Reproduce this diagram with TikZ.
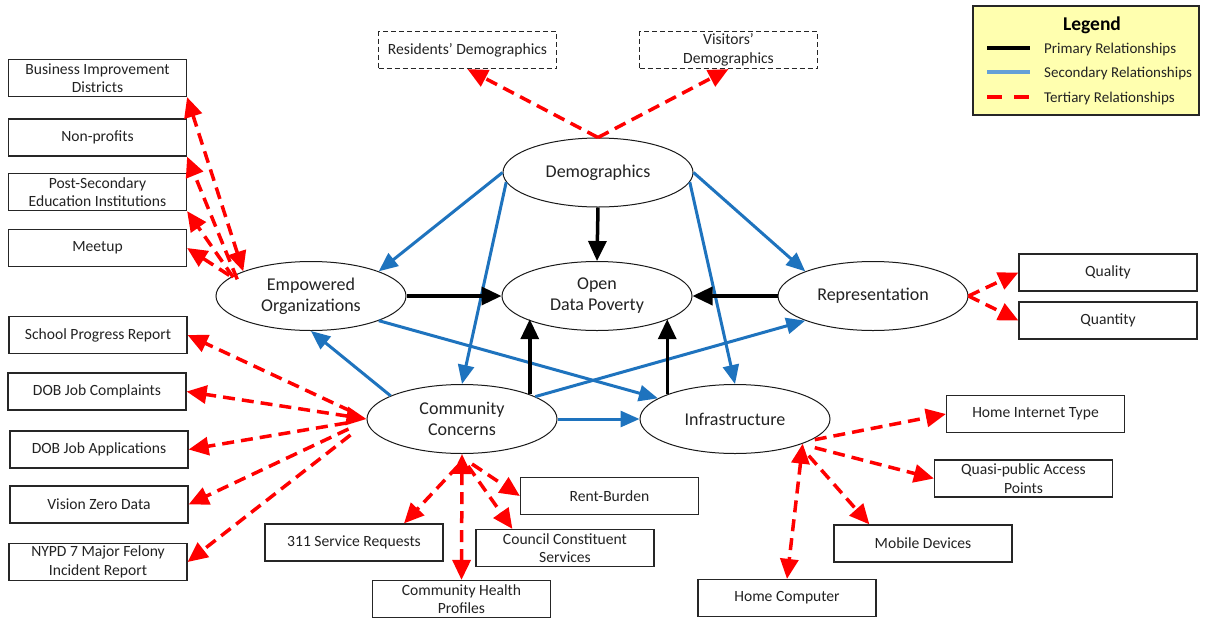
\documentclass[tikz,border=0pt]{standalone}
\usepackage{fontspec}
\setmainfont{Carlito}
\usetikzlibrary{shapes.geometric,arrows.meta,calc}
\definecolor{secblue}{RGB}{30,115,190}
\definecolor{legblue}{RGB}{100,160,215}
\definecolor{terred}{RGB}{255,0,0}
\definecolor{legyellow}{RGB}{255,255,175}
\definecolor{txt}{RGB}{35,35,35}
\begin{document}
\begin{tikzpicture}[x=1pt,y=-1pt,
  ell/.style={ellipse, draw=black!90, line width=1pt, minimum width=190pt, minimum height=69pt,
    inner sep=0pt, align=center, text=txt, font=\fontsize{18}{21}\selectfont},
  box/.style={rectangle, draw=black!85, line width=1.2pt, minimum width=178pt, minimum height=37pt,
    inner sep=0pt, align=center, text=txt, font=\fontsize{15.6}{18.5}\selectfont},
  dbox/.style={box, dash pattern=on 5pt off 3pt},
  prim/.style={black, line width=3.5pt, -{Triangle[length=20pt,width=18pt]}},
  sec/.style={secblue, line width=3pt, -{Triangle[length=19pt,width=16pt]}},
  ter/.style={terred, line width=3.5pt, dash pattern=on 12pt off 7pt, -{Triangle[length=20pt,width=18pt]}},
  terb/.style={ter, {Triangle[length=20pt,width=18pt]}-{Triangle[length=20pt,width=18pt]}},
  legtext/.style={anchor=west, text=txt, inner sep=0pt, font=\fontsize{15}{18}\selectfont}
]
\fill[white] (0,0) rectangle (1210,619);
\useasboundingbox (0,0) rectangle (1210,619);

% Legend
\node (legbox) [rectangle, draw=black!85, line width=1.2pt, fill=legyellow, minimum width=226pt, minimum height=109pt, inner sep=0pt] at (1086,60.5) {};
\node (legtitle) [text=black, font=\fontsize{19.5}{22}\selectfont\bfseries] at (1092,25) {Legend};
\coordinate (l1a) at (987,48); \coordinate (l1b) at (1030,48);
\coordinate (l2a) at (987,72); \coordinate (l2b) at (1030,72);
\coordinate (l3a) at (987,97); \coordinate (l3b) at (1030,97);
\draw[black, line width=4pt] (l1a) -- (l1b);
\draw[legblue, line width=4pt] (l2a) -- (l2b);
\draw[terred, line width=4pt, dash pattern=on 15pt off 12pt] (l3a) -- (l3b);
\node (lt1) [legtext] at (1044,49) {Primary Relationships};
\node (lt2) [legtext] at (1044,73) {Secondary Relationships};
\node (lt3) [legtext] at (1044,98) {Tertiary Relationships};

% Ellipses
\node (demo)  [ell] at (598,172.5) {Demographics};
\node (emp)   [ell] at (311,296) {Empowered\\Organizations};
\node (open)  [ell] at (597,296) {Open\\Data Poverty};
\node (rep)   [ell] at (873,296) {Representation};
\node (comm)  [ell] at (462,419) {Community\\Concerns};
\node (infra) [ell] at (735,419) {Infrastructure};

% Boxes
\node (rd)   [dbox] at (467.5,50) {Residents’ Demographics};
\node (vd)   [dbox] at (728.5,50) {Visitors’\\Demographics};
\node (bid)  [box] at (97.5,78) {Business Improvement\\Districts};
\node (np)   [box] at (97.5,137.5) {Non-profits};
\node (ps)   [box] at (97.5,192) {Post-Secondary\\Education Institutions};
\node (mu)   [box] at (97.5,248) {Meetup};
\node (spr)  [box] at (98,335) {School Progress Report};
\node (dobc) [box] at (97,391.5) {DOB Job Complaints};
\node (doba) [box] at (99,449.5) {DOB Job Applications};
\node (vz)   [box] at (99,504.5) {Vision Zero Data};
\node (nypd) [box] at (98,562) {NYPD 7 Major Felony\\Incident Report};
\node (sr)   [box] at (354,542.5) {311 Service Requests};
\node (ccs)  [box] at (565,548) {Council Constituent\\Services};
\node (rb)   [box] at (609.5,496) {Rent-Burden};
\node (chp)  [box] at (461.5,599) {Community Health\\Profiles};
\node (hit)  [box] at (1035.5,414) {Home Internet Type};
\node (qp)   [box] at (1023.5,478.5) {Quasi-public Access\\Points};
\node (md)   [box] at (923,543.5) {Mobile Devices};
\node (hc)   [box] at (787,598) {Home Computer};
\node (qual) [box] at (1108,272.5) {Quality};
\node (quan) [box] at (1108,320.5) {Quantity};

% Secondary (blue)
\draw[sec] (demo.west) -- (emp.20);
\draw[sec] (demo.186) -- (comm.north);
\draw[sec] (demo.east) -- (rep.160);
\draw[sec] (demo.-6) -- (infra.north);
\draw[sec] (comm.162) -- (emp.south);
\draw[sec] (emp.-20) -- (infra.165);
\draw[sec] (comm.17) -- (rep.200);
\draw[sec] (comm.east) -- (infra.west);

% Primary (black)
\draw[prim] (demo.south) -- (open.north);
\draw[prim] (emp.east) -- (open.west);
\draw[prim] (rep.west) -- (open.east);
\draw[prim] (comm.20) -- (comm.20 |- open.198);
\draw[prim] (infra.160) -- (infra.160 |- open.-18);

% Tertiary (red dashed)
\draw[ter] (demo.north) -- (rd.south);
\draw[ter] (demo.north) -- (vd.south);
\draw[ter] (rep.east) -- (qual.west);
\draw[ter] (rep.east) -- (quan.west);

\draw[terb] (emp.160) -- (bid.south east);
\draw[ter] ([shift={(-6pt,-8pt)}]emp.160) -- (np.south east);
\draw[ter] ([shift={(-10pt,-6pt)}]emp.160) -- (ps.south east);
\draw[ter] ([shift={(-14pt,-4pt)}]emp.160) -- (mu.east);

\draw[ter] ([shift={(-16pt,8pt)}]comm.west) -- (spr.east);
\draw[terb] (comm.west) -- (dobc.east);
\draw[ter] ([shift={(-20pt,-4pt)}]comm.west) -- (doba.east);
\draw[ter] ([shift={(-18pt,-10pt)}]comm.west) -- (vz.east);
\draw[ter] ([shift={(-16pt,-16pt)}]comm.west) -- (nypd.east);

\draw[ter] ([shift={(-4pt,-12pt)}]comm.south) -- ([xshift=50pt]sr.north);
\draw[terb] (comm.south) -- (chp.north);
\draw[ter] ([shift={(6pt,-12pt)}]comm.south) -- ([xshift=37pt]ccs.north west);
\draw[ter] ([shift={(10pt,-10pt)}]comm.south) -- (rb.west);

\draw[ter] ([shift={(12pt,4pt)}]infra.-20) -- (hit.west);
\draw[ter] ([shift={(12pt,-4pt)}]infra.-20) -- (qp.west);
\draw[ter] ([shift={(6pt,-12pt)}]infra.-20) -- ([xshift=36pt]md.north west);
\draw[terb] (infra.-20) -- (hc.north);
\end{tikzpicture}
\end{document}
